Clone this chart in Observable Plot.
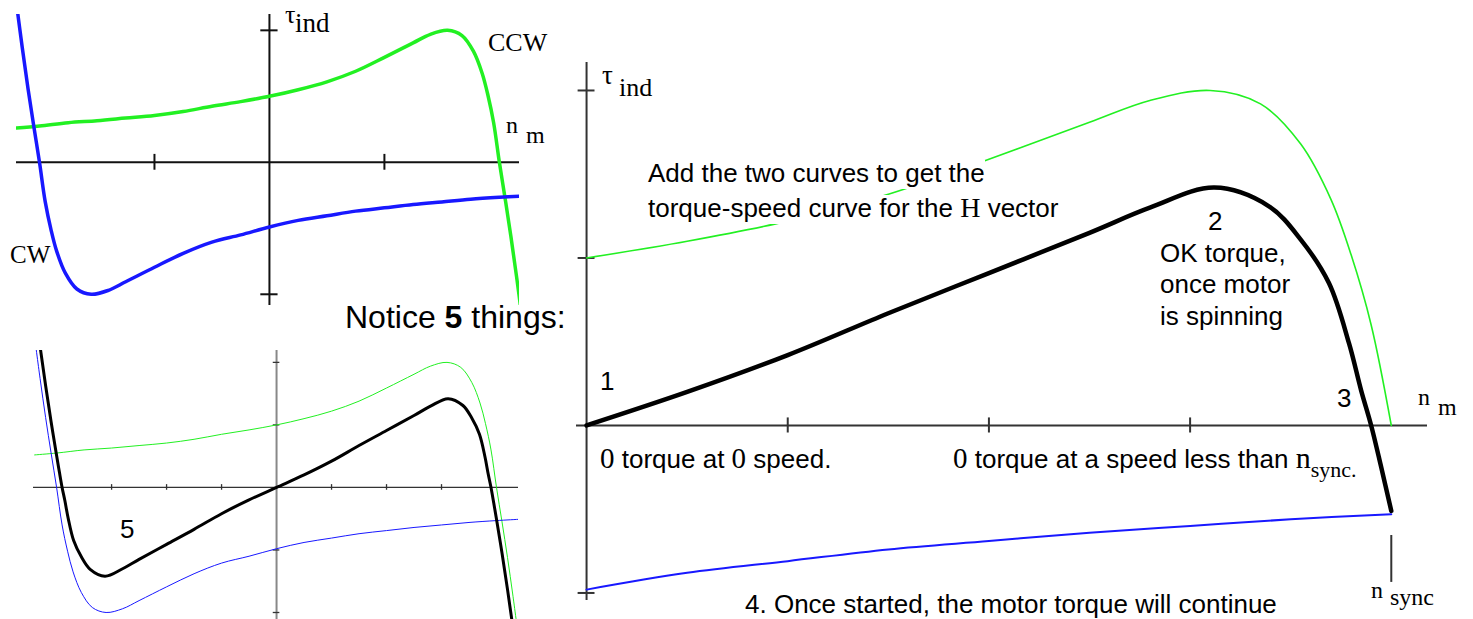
<!DOCTYPE html>
<html>
<head>
<meta charset="utf-8">
<script src="https://cdn.jsdelivr.net/npm/d3@7"></script>
<script src="https://cdn.jsdelivr.net/npm/@observablehq/plot@0.6"></script>
<style>
  html, body { margin: 0; padding: 0; background: #fff; overflow: hidden; }
  #root { position: relative; width: 1473px; height: 619px; overflow: hidden; background: #fff; }
  #root svg { position: absolute; background: transparent; overflow: hidden; }
  .lbl { position: absolute; white-space: nowrap; color: #000; line-height: 1; }
  .lbl span { line-height: 0; }
</style>
</head>
<body>
<div id="root"></div>
<script>
// ---- data (speed in units where n_sync = 4, torque in arbitrary units) ----
const speedCCW  = [-4.4,-4.0,-3.5,-3.0,-2.5,-2.0,-1.5,-1.0,-0.5,0,0.5,1.0,1.5,2.0,2.5,2.8,3.1,3.35,3.55,3.7,3.8,3.9,4.0,4.1,4.2,4.3,4.4];
const torqueCCW = [0.52,0.55,0.60,0.63,0.67,0.71,0.77,0.85,0.92,1.0,1.10,1.22,1.38,1.59,1.81,1.94,2.0,1.92,1.68,1.35,1.02,0.60,0.0,-0.55,-1.12,-1.74,-2.4];

const speedCW  = [-4.4,-4.3,-4.2,-4.1,-4.0,-3.9,-3.8,-3.7,-3.55,-3.35,-3.1,-2.8,-2.5,-2.0,-1.5,-1.0,-0.5,0,0.5,1.0,1.5,2.0,2.5,3.0,3.5,4.0,4.4];
const torqueCW = [2.4,1.74,1.12,0.55,0.0,-0.60,-1.02,-1.35,-1.68,-1.92,-2.0,-1.94,-1.81,-1.59,-1.38,-1.21,-1.10,-0.98,-0.88,-0.81,-0.74,-0.69,-0.64,-0.60,-0.56,-0.53,-0.51];

const speedNet  = [-4.4,-4.3,-4.2,-4.1,-4.0,-3.95,-3.9,-3.85,-3.79,-3.69,-3.55,-3.39,-3.12,-2.8,-2.5,-2.0,-1.5,-1.0,-0.5,0,0.5,1.0,1.5,2.0,2.5,2.8,3.12,3.39,3.55,3.69,3.79,3.85,3.9,3.95,4.0,4.1,4.2,4.3,4.4];
const torqueNet = [2.9,2.25,1.63,1.05,0.51,0.25,0,-0.21,-0.49,-0.85,-1.11,-1.31,-1.42,-1.30,-1.15,-0.91,-0.67,-0.42,-0.20,0,0.20,0.42,0.67,0.91,1.15,1.30,1.42,1.31,1.11,0.85,0.49,0.21,0,-0.25,-0.51,-1.05,-1.63,-2.25,-2.9];

const topLeftTicks = [-2, 2];
const bottomLeftXTicks = [-3, -2, -1, 1, 2, 3];
const bottomLeftYTicks = [-2, -1, 1, 2];
const rightXTicks = [1, 2, 3];
const rightYTicks = [-1, 1, 2];
const nSync = 4;

const GREEN = "#22f022";
const BLUE = "#1818ff";

const toRows = (xs, ys) => xs.map((s, i) => ({speed: s, torque: ys[i]}));
const ccw = toRows(speedCCW, torqueCCW);
const cw = toRows(speedCW, torqueCW);
const net = toRows(speedNet, torqueNet);
const upToSync = rows => rows.filter(d => d.speed >= 0 && d.speed <= nSync);

const root = document.getElementById("root");

function panel({left, top, width, height, xDomain, yDomain, marks}) {
  const svg = Plot.plot({
    width, height, margin: 0,
    x: {domain: xDomain, axis: null},
    y: {domain: yDomain, axis: null},
    style: {background: "transparent", overflow: "hidden"},
    marks
  });
  svg.style.left = left + "px";
  svg.style.top = top + "px";
  root.append(svg);
}

const line = (rows, stroke, strokeWidth) =>
  Plot.line(rows, {x: "speed", y: "torque", stroke, strokeWidth, curve: "catmull-rom", clip: true, strokeLinejoin: "round", strokeLinecap: "round"});

// ---- top-left: CW and CCW fields separately ----
panel({
  left: 16, top: 14, width: 503, height: 291,
  xDomain: [-4.4, 4.35], yDomain: [-2.17, 2.24],
  marks: [
    Plot.ruleY([0], {stroke: "#111", strokeWidth: 2}),
    Plot.ruleX([0], {stroke: "#111", strokeWidth: 2}),
    Plot.ruleX(topLeftTicks, {y1: -0.12, y2: 0.12, stroke: "#111", strokeWidth: 2}),
    Plot.ruleY(topLeftTicks, {x1: -0.15, x2: 0.15, stroke: "#111", strokeWidth: 2}),
    line(ccw, GREEN, 3.5),
    line(cw, BLUE, 3.5)
  ]
});

// ---- bottom-left: sum ----
panel({
  left: 33, top: 350, width: 485, height: 272,
  xDomain: [-4.42, 4.4], yDomain: [-2.16, 2.19],
  marks: [
    Plot.ruleY([0], {stroke: "#333", strokeWidth: 1.3}),
    Plot.ruleX([0], {stroke: "#888", strokeWidth: 2}),
    Plot.ruleX(bottomLeftXTicks, {y1: -0.045, y2: 0.045, stroke: "#333", strokeWidth: 1.3}),
    Plot.ruleY(bottomLeftYTicks, {x1: -0.06, x2: 0.06, stroke: "#333", strokeWidth: 1.3}),
    line(ccw, GREEN, 1),
    line(cw, BLUE, 1),
    line(net, "#000", 3)
  ]
});

// ---- right: positive speeds up to n_sync ----
panel({
  left: 576, top: 62, width: 851, height: 538,
  xDomain: [-0.05, 4.18], yDomain: [-1.045, 2.167],
  marks: [
    Plot.ruleY([0], {stroke: "#333", strokeWidth: 2}),
    Plot.ruleX([0], {stroke: "#333", strokeWidth: 2}),
    Plot.ruleX(rightXTicks, {y1: -0.045, y2: 0.045, stroke: "#333", strokeWidth: 2}),
    Plot.ruleY(rightYTicks, {x1: -0.042, x2: 0.042, stroke: "#333", strokeWidth: 2}),
    Plot.ruleX([nSync], {y1: -0.657, y2: -0.937, stroke: "#333", strokeWidth: 2}),
    line(upToSync(ccw), GREEN, 1.6),
    line(upToSync(cw), BLUE, 2),
    line(upToSync(net), "#000", 4.5)
  ]
});

// ---- text labels ----
const SANS = "'Liberation Sans', Arial, sans-serif";
const SERIF = "'Liberation Serif', 'Times New Roman', serif";
function label(html, x, baseline, size, family, extra) {
  const d = document.createElement("div");
  d.className = "lbl";
  const k = family === SERIF ? 0.8375 : 0.8465;
  d.style.left = x + "px";
  d.style.top = (baseline - k * size) + "px";
  d.style.fontSize = size + "px";
  d.style.fontFamily = family;
  if (extra) Object.assign(d.style, extra);
  d.innerHTML = html;
  root.append(d);
}
const serif = (t, size, extra = "") => `<span style="font-family:${SERIF};font-size:${size}px;${extra}">${t}</span>`;

// top-left
label("τ", 285, 24, 26, SERIF);
label("ind", 295, 33, 27, SERIF);
label("CCW", 488, 52, 26, SERIF);
label("n", 506, 133, 24, SERIF);
label("m", 526, 143, 24, SERIF);
label("CW", 10, 263, 25, SERIF);
label("Notice <b>5</b> things:", 345, 328, 32, SANS);
// bottom-left
label("5", 120, 538, 26, SANS);
// right
label("τ", 602, 85, 27, SERIF);
label("ind", 619, 97, 26, SERIF);
label("Add the two curves to get the", 648, 182, 26, SANS, {background: "#fff", paddingBottom: "3px"});
label("torque-speed curve for the " + serif("H", 28) + " vector", 648, 217, 26, SANS, {background: "#fff", paddingBottom: "3px"});
label("2", 1208, 230, 26, SANS);
label("OK torque,", 1160, 262, 26, SANS);
label("once motor", 1160, 293, 26, SANS);
label("is spinning", 1160, 325, 26, SANS);
label("1", 600, 390, 26, SANS);
label(serif("0", 29) + " torque at " + serif("0", 29) + " speed.", 600, 468, 26, SANS);
label(serif("0", 29) + " torque at a speed less than " + serif("n", 30) + serif("sync.", 22, "vertical-align:-9px;"), 953, 468, 26, SANS);
label("3", 1337, 407, 26, SANS);
label("n", 1418, 405, 24, SERIF);
label("m", 1438, 415, 24, SERIF);
label("4. Once started, the motor torque will continue", 745, 613, 26, SANS);
label("n", 1371, 598, 24, SERIF);
label("sync", 1390, 605, 24, SERIF);
</script>
</body>
</html>
